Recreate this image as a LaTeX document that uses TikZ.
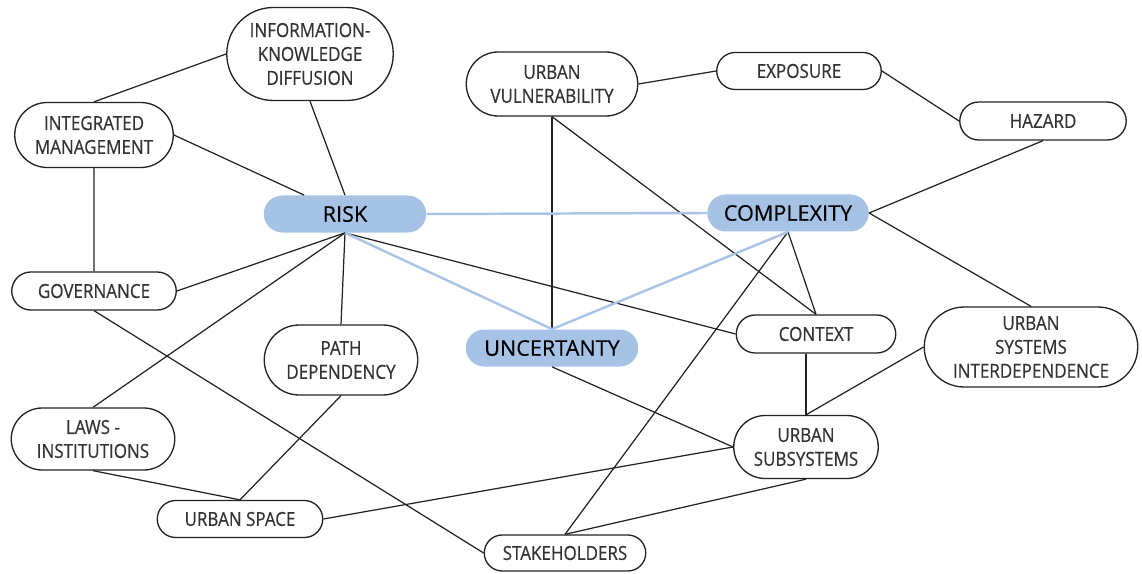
\documentclass[tikz,border=0pt]{standalone}
\usepackage{fontspec}
\usepackage{tikz}
\usetikzlibrary{shapes.misc}
\newfontfamily\graysf{Open Sans}[FakeStretch=0.88,FakeBold=0.5]
\newfontfamily\bluesf{Open Sans}[FakeBold=0.4]
\definecolor{ink}{HTML}{222222}
\definecolor{label}{HTML}{333333}
\definecolor{core}{HTML}{A6C3E6}
\definecolor{coreline}{HTML}{A9C4E6}

\begin{document}
\begin{tikzpicture}[x=0.02cm,y=-0.02cm,
  idea/.style={rounded rectangle,draw=ink,line width=0.75pt,fill=white,text=label,align=center,inner sep=1pt,
    font=\graysf\fontsize{11}{13.6}\selectfont},
  hub/.style={rounded rectangle,fill=core,text=black,inner sep=1pt,minimum height=37*0.02cm,
    font=\bluesf\fontsize{12.3}{14}\selectfont},
  link/.style={ink,line width=0.7pt},
  corelink/.style={coreline,line width=1.4pt}]
  \useasboundingbox (0,0) rectangle (1142,574);
  % concept nodes
  \node[idea,minimum width=170*0.02cm,minimum height=93*0.02cm] (info) at (310,54) {INFORMATION-\\KNOWLEDGE\\DIFFUSION};
  \node[idea,minimum width=162*0.02cm,minimum height=65*0.02cm] (integ) at (94,135) {INTEGRATED\\MANAGEMENT};
  \node[idea,minimum width=168*0.02cm,minimum height=38*0.02cm] (gov) at (94,291) {GOVERNANCE};
  \node[idea,minimum width=157*0.02cm,minimum height=70*0.02cm] (path) at (341,360) {PATH\\DEPENDENCY};
  \node[idea,minimum width=167*0.02cm,minimum height=62*0.02cm] (laws) at (93,439) {LAWS -\\INSTITUTIONS};
  \node[idea,minimum width=169*0.02cm,minimum height=37*0.02cm] (space) at (240,519) {URBAN SPACE};
  \node[idea,minimum width=165*0.02cm,minimum height=36*0.02cm] (stake) at (565,553) {STAKEHOLDERS};
  \node[idea,minimum width=175*0.02cm,minimum height=64*0.02cm] (vuln) at (552,84) {URBAN\\VULNERABILITY};
  \node[idea,minimum width=168*0.02cm,minimum height=37*0.02cm] (expo) at (799,71) {EXPOSURE};
  \node[idea,minimum width=170*0.02cm,minimum height=38*0.02cm] (hazard) at (1043,121) {HAZARD};
  \node[idea,minimum width=163*0.02cm,minimum height=38*0.02cm] (context) at (816,334) {CONTEXT};
  \node[idea,minimum width=217*0.02cm,minimum height=80*0.02cm] (usi) at (1031,347) {URBAN\\SYSTEMS\\INTERDEPENDENCE};
  \node[idea,minimum width=148*0.02cm,minimum height=63*0.02cm] (subsys) at (806,447) {URBAN\\SUBSYSTEMS};
  % core nodes
  \node[hub,minimum width=166*0.02cm] (risk) at (345,214) {RISK};
  \node[hub,minimum width=165*0.02cm] (complex) at (788,213) {COMPLEXITY};
  \node[hub,minimum width=176*0.02cm] (uncert) at (552,348) {UNCERTANTY};
  % links
  \draw[link] (info.west) -- (integ.north);
  \draw[link] (info.south) -- (risk.north);
  \draw[link] (integ.east) -- (risk);
  \draw[link] (integ) -- (gov);
  \draw[link] (gov.east) -- (risk.south);
  \draw[link] (laws.north) -- (risk.south);
  \draw[link] (risk.south) -- (path.north);
  \draw[link] (risk.south) -- (context.west);
  \draw[link] (vuln.south) -- (uncert.north);
  \draw[link] (vuln.south) -- (context.north);
  \draw[link] (vuln.east) -- (expo.west);
  \draw[link] (expo.east) -- (hazard.west);
  \draw[link] (hazard.south) -- (complex.east);
  \draw[link] (complex.south) -- (context.north);
  \draw[link] (complex.south) -- (stake.north);
  \draw[link] (complex.east) -- (usi.north);
  \draw[link] (subsys.north) -- (subsys.north |- context.south);
  \draw[link] (usi.west) -- (subsys.north);
  \draw[link] (uncert.south) -- (subsys.west);
  \draw[link] (subsys.west) -- (space.east);
  \draw[link] (subsys.south) -- (stake.north);
  \draw[link] (gov.south) -- (stake.west);
  \draw[link] (path.south) -- (space.north);
  \draw[link] (laws.south) -- (space.north);
  \draw[corelink] (risk.east) -- (complex.west);
  \draw[corelink] (risk.south) -- (uncert.north);
  \draw[corelink] (complex.south) -- (uncert.north);
\end{tikzpicture}
\end{document}
